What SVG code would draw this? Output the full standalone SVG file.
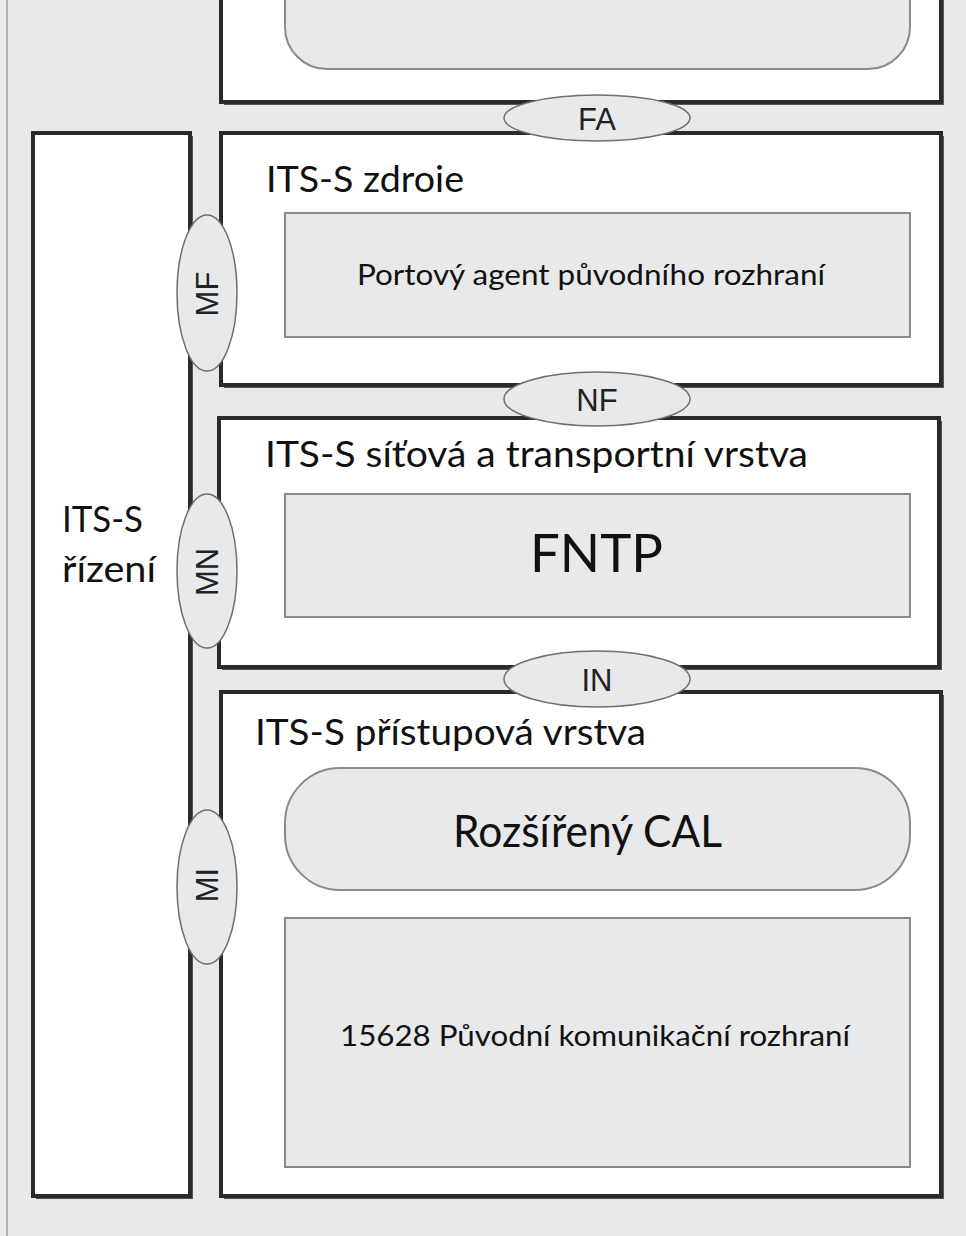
<svg xmlns="http://www.w3.org/2000/svg" width="966" height="1236" viewBox="0 0 966 1236">
<style>
.box{fill:#fff;stroke:#2a2a2a;stroke-width:4}
.shadow{fill:#555}
.inner{fill:#e8e9eb;stroke:#8a8a8a;stroke-width:2}
.ell{fill:#e8e9eb;stroke:#6f6f6f;stroke-width:1.5}
.title{font-family:Lato,"Open Sans",sans-serif;font-size:36px;fill:#111}
.lbl{font-family:"Liberation Sans",Arial,sans-serif;font-size:31px;fill:#222;text-anchor:middle}
.body{font-family:Lato,"Open Sans",sans-serif;fill:#111}
</style>
<rect x="0" y="0" width="966" height="1236" fill="#e8e9eb"/>
<line x1="7" y1="0" x2="7" y2="1236" stroke="#b0b0b0" stroke-width="2"/>
<g id="app">
<rect class="shadow" x="224" y="-10" width="720" height="115"/>
<rect class="box" x="221" y="-10" width="720" height="112"/>
<rect class="inner" x="285" y="-40" width="625" height="109" rx="42"/>
</g>
<g id="mgmt">
<rect class="shadow" x="36" y="136" width="157" height="1063"/>
<rect class="box" x="33" y="133" width="157" height="1063"/>
<text class="title" x="62" y="532" textLength="81" lengthAdjust="spacingAndGlyphs">ITS-S</text>
<text class="title" x="62" y="582" textLength="94" lengthAdjust="spacingAndGlyphs">řízení</text>
</g>
<g id="fac">
<rect class="shadow" x="224" y="136" width="720" height="252"/>
<rect class="box" x="221" y="133" width="720" height="252"/>
<text class="title" x="266" y="192" textLength="198" lengthAdjust="spacingAndGlyphs">ITS-S zdroie</text>
<rect class="inner" x="285" y="213" width="625" height="124"/>
<text class="body" x="357" y="285" font-size="29" textLength="468" lengthAdjust="spacingAndGlyphs">Portový agent původního rozhraní</text>
</g>
<g id="net">
<rect class="shadow" x="222" y="421" width="720" height="249"/>
<rect class="box" x="219" y="418" width="720" height="249"/>
<text class="title" x="265" y="467" textLength="543" lengthAdjust="spacingAndGlyphs">ITS-S síťová a transportní vrstva</text>
<rect class="inner" x="285" y="494" width="625" height="123"/>
<text class="body" x="530" y="572" font-size="52" textLength="133" lengthAdjust="spacingAndGlyphs">FNTP</text>
</g>
<g id="acc">
<rect class="shadow" x="224" y="695" width="720" height="504"/>
<rect class="box" x="221" y="692" width="720" height="504"/>
<text class="title" x="255" y="745" textLength="391" lengthAdjust="spacingAndGlyphs">ITS-S přístupová vrstva</text>
<rect class="inner" x="285" y="768" width="625" height="122" rx="55"/>
<text class="body" x="453" y="847" font-size="44" textLength="269" lengthAdjust="spacingAndGlyphs">Rozšířený CAL</text>
<rect class="inner" x="285" y="918" width="625" height="249"/>
<text class="body" x="340" y="1046" font-size="29" textLength="510" lengthAdjust="spacingAndGlyphs">15628 Původní komunikační rozhraní</text>
</g>
<g id="connectors">
<g id="FA"><ellipse class="ell" cx="597" cy="118" rx="93" ry="23"/><text class="lbl" x="597" y="130">FA</text></g>
<g id="NF"><ellipse class="ell" cx="597" cy="399" rx="93" ry="27"/><text class="lbl" x="597" y="411">NF</text></g>
<g id="IN"><ellipse class="ell" cx="597" cy="679" rx="93" ry="28"/><text class="lbl" x="597" y="691">IN</text></g>
<g id="MF"><ellipse class="ell" cx="207" cy="293" rx="30" ry="78"/><text class="lbl" transform="translate(218 294) rotate(-90)">MF</text></g>
<g id="MN"><ellipse class="ell" cx="207" cy="571" rx="30" ry="77"/><text class="lbl" transform="translate(218 572) rotate(-90)">MN</text></g>
<g id="MI"><ellipse class="ell" cx="207" cy="887" rx="30" ry="77"/><text class="lbl" transform="translate(218 885) rotate(-90)">MI</text></g>
</g>
</svg>
